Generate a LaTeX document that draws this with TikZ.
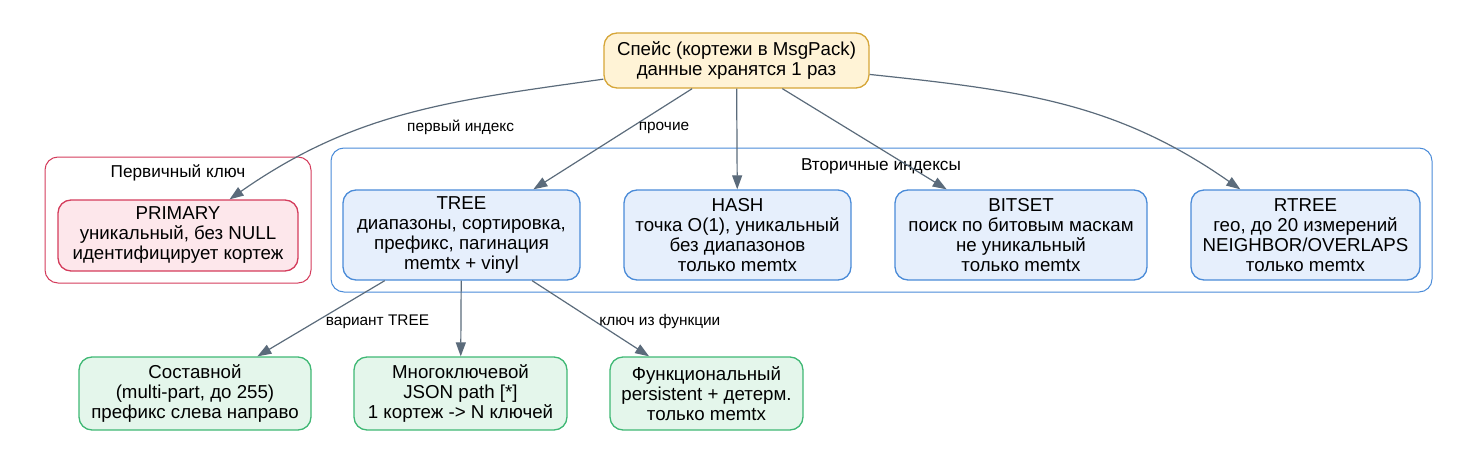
\documentclass[tikz,border=0pt]{standalone}
\usepackage{fontspec}
\setmainfont{Liberation Sans}
\usetikzlibrary{arrows.meta}

\definecolor{spcfill}{HTML}{FFF3D6}
\definecolor{spcdraw}{HTML}{D6A638}
\definecolor{pkfill}{HTML}{FDE7EB}
\definecolor{pkdraw}{HTML}{D43C5C}
\definecolor{secfill}{HTML}{E6EFFC}
\definecolor{secdraw}{HTML}{4A8BD8}
\definecolor{varfill}{HTML}{E4F6EB}
\definecolor{vardraw}{HTML}{3FB874}
\definecolor{edgec}{HTML}{5B6B7B}

\begin{document}
\begin{tikzpicture}[
    x=1pt, y=1pt,
    box/.style={
        draw,
        rounded corners=13pt,
        line width=1.3pt,
        align=center,
        inner sep=0pt,
        font=\fontsize{18.7}{20}\selectfont
    },
    spc/.style={box, fill=spcfill, draw=spcdraw},
    pk/.style={box, fill=pkfill, draw=pkdraw},
    sec/.style={box, fill=secfill, draw=secdraw},
    var/.style={box, fill=varfill, draw=vardraw},
    grp/.style={
        draw,
        rounded corners=13pt,
        line width=1pt,
        inner sep=0pt
    },
    grplbl/.style={
        font=\fontsize{17.2}{20}\selectfont,
        inner sep=0pt
    },
    edge/.style={
        draw=edgec,
        line width=1.2pt,
        -{Triangle[length=14pt,width=10pt]}
    },
    lbl/.style={
        font=\fontsize{15.4}{18}\selectfont,
        inner sep=0pt
    }
]
\useasboundingbox (0,0) rectangle (1478,-463);

%--- Кластеры ---
\node[grp, draw=pkdraw, minimum width=266pt, minimum height=126pt]
    (pkgrp) at (178,-220) {};
\node[grplbl] (pkgrplbl) at (178,-173) {Первичный ключ};
\node[grp, draw=secdraw, minimum width=1101pt, minimum height=144pt]
    (secgrp) at (881.5,-220) {};
\node[grplbl] (secgrplbl) at (881,-166) {Вторичные индексы};

%--- Спейс ---
\node[spc, minimum width=265pt, minimum height=55pt]
    (space) at (736.5,-60.5) {Спейс (кортежи в MsgPack)\\данные хранятся 1 раз};

%--- Первичный ---
\node[pk, minimum width=240pt, minimum height=71pt]
    (primary) at (178,-235.5) {PRIMARY\\уникальный, без NULL\\идентифицирует кортеж};

%--- Вторичные ---
\node[sec, minimum width=237pt, minimum height=90pt]
    (tree) at (461.5,-235) {TREE\\диапазоны, сортировка,\\префикс, пагинация\\memtx + vinyl};
\node[sec, minimum width=227pt, minimum height=90pt]
    (hash) at (737.5,-235) {HASH\\точка O(1), уникальный\\без диапазонов\\только memtx};
\node[sec, minimum width=252pt, minimum height=90pt]
    (bitset) at (1021,-235) {BITSET\\поиск по битовым маскам\\не уникальный\\только memtx};
\node[sec, minimum width=229pt, minimum height=90pt]
    (rtree) at (1305.5,-235) {RTREE\\гео, до 20 измерений\\NEIGHBOR/OVERLAPS\\только memtx};

%--- Варианты TREE ---
\node[var, minimum width=232pt, minimum height=73pt]
    (multi) at (195,-393.5) {Составной\\(multi-part, до 255)\\префикс слева направо};
\node[var, minimum width=213pt, minimum height=73pt]
    (multikey) at (460.5,-393.5) {Многоключевой\\JSON path [*]\\1 кортеж -> N ключей};
\node[var, minimum width=193pt, minimum height=73pt]
    (func) at (706.5,-393.5) {Функциональный\\persistent + детерм.\\только memtx};

%--- Связи ---
\draw[edge] (space) to[out=188, in=35]
    node[lbl, pos=0.35, anchor=north, yshift=-18pt] {первый индекс} (primary);
\draw[edge] (space) --
    node[lbl, pos=0.39, anchor=west, xshift=8pt] {прочие} (tree);
\draw[edge] (space) -- (hash);
\draw[edge] (space) -- (bitset);
\draw[edge] (space) to[out=-6, in=145] (rtree);

\draw[edge] (tree) --
    node[lbl, pos=0.545, anchor=west, xshift=10pt] {вариант TREE} (multi);
\draw[edge] (tree) -- (multikey);
\draw[edge] (tree) --
    node[lbl, pos=0.545, anchor=west, xshift=3pt] {ключ из функции} (func);

\end{tikzpicture}
\end{document}
